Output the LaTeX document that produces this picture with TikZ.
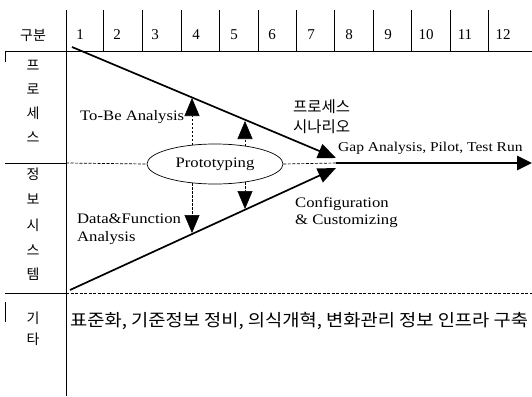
\documentclass[tikz,border=0pt]{standalone}
\usepackage{fontspec}
\setmainfont{Liberation Serif}
\newfontfamily\wserif[FakeStretch=1.15]{Liberation Serif}
\newfontfamily\kr{Noto Sans CJK KR}
\newfontfamily\krw[FakeStretch=1.1]{Noto Sans CJK KR}
\usetikzlibrary{arrows.meta,shapes.geometric}
\begin{document}
\begin{tikzpicture}[x=1pt,y=-1pt,
 grid/.style={line width=0.8pt},
 sep/.style={line width=0.7pt, dash pattern=on 3pt off 1.5pt},
 main/.style={line width=1.7pt,-{Triangle[width=15pt,length=18pt]}},
 probe/.style={line width=0.6pt,dash pattern=on 2.5pt off 1.5pt,-{Triangle[width=15pt,length=18pt]}},
 lbl/.style={font=\wserif\fontsize{14.5}{17.5}\selectfont, inner sep=0pt, anchor=west, align=left},
 krl/.style={font=\kr\fontsize{14}{20}\selectfont, inner sep=0pt},
 num/.style={font=\fontsize{15}{15}\selectfont, inner sep=0pt},
]
\useasboundingbox (0,0) rectangle (532,396);
% header grid
\draw[grid] (66,10) -- (66,396);
\foreach \x in {103,142,181,219,258,296,334,373,411,450,488}
  \draw[grid] (\x,10) -- (\x,51);
\draw[grid] (5,51) -- (532,51);
\draw[grid] (5,51) -- (5,62);
\draw[grid] (5,302) -- (5,322);
\node[krl] (h0) at (33,35) {구분};
\foreach \n/\x in {1/80,2/117,3/155,4/196,5/234,6/272,7/311,8/349,9/388,10/426,11/465,12/503}
  \node[num] (h\n) at (\x,35) {\n};
% row labels
\foreach \c/\y [count=\i] in {프/65,로/89,세/113,스/137}
  \node[krl] (p\i) at (33,\y) {\c};
\foreach \c/\y [count=\i] in {정/174,보/199,시/225,스/250,템/274}
  \node[krl] (s\i) at (33,\y) {\c};
\node[krl] (e1) at (33,318) {기};
\node[krl] (e2) at (33,339) {타};
% row separators
\draw[grid] (5,163) -- (66,163);
\draw[grid] (5,293) -- (66,293);
\draw[sep] (66,293) -- (532,293);
% ellipse
\node[ellipse, draw, line width=0.7pt, minimum width=136pt, minimum height=40pt, inner sep=0pt, font=\wserif\fontsize{14.5}{15}\selectfont] (proto) at (215,164) {Prototyping};
\coordinate (rowL) at (66,163);
\coordinate (tl) at (72,47);
\coordinate (bl) at (70,290);
\coordinate (tipA) at (336,158);
\coordinate (tipB) at (336,168);
\coordinate (conv) at (336,163);
\coordinate (endR) at (532,163);
\draw[sep] (rowL) -- (proto.west);
\draw[sep] (proto.east) -- (conv);
% main converging lines
\draw[main] (tl) -- (tipA);
\draw[main] (bl) -- (tipB);
\draw[line width=2.6pt,-{Triangle[width=14pt,length=15pt]}] (conv) -- (endR);
% probe arrows
\coordinate (u1s) at (192,145); \coordinate (u1) at (192,98);
\coordinate (u2s) at (245,146); \coordinate (u2) at (245,121);
\coordinate (d1s) at (192,183); \coordinate (d1) at (192,233);
\coordinate (d2s) at (245,182); \coordinate (d2) at (245,209);
\draw[probe] (u1s) -- (u1);
\draw[probe] (u2s) -- (u2);
\draw[probe] (d1s) -- (d1);
\draw[probe] (d2s) -- (d2);
% labels
\node[lbl] (tobe) at (80,117) {To-Be Analysis};
\node[lbl, anchor=north west] (daf) at (77,214) {Data\&Function\\Analysis};
\node[krl, anchor=north west, align=left, font=\kr\fontsize{15.5}{20}\selectfont] (scen) at (293,99) {프로세스\\시나리오};
\node[lbl, font=\wserif\fontsize{13.5}{15}\selectfont] (gap) at (338,148) {Gap Analysis, Pilot, Test Run};
\node[lbl, anchor=north west] (conf) at (295,197) {Configuration\\\& Customizing};
\node[krl, anchor=west, font=\krw\fontsize{17}{18}\selectfont] (etc) at (70,321) {표준화, 기준정보 정비, 의식개혁, 변화관리 정보 인프라 구축};
\end{tikzpicture}
\end{document}
